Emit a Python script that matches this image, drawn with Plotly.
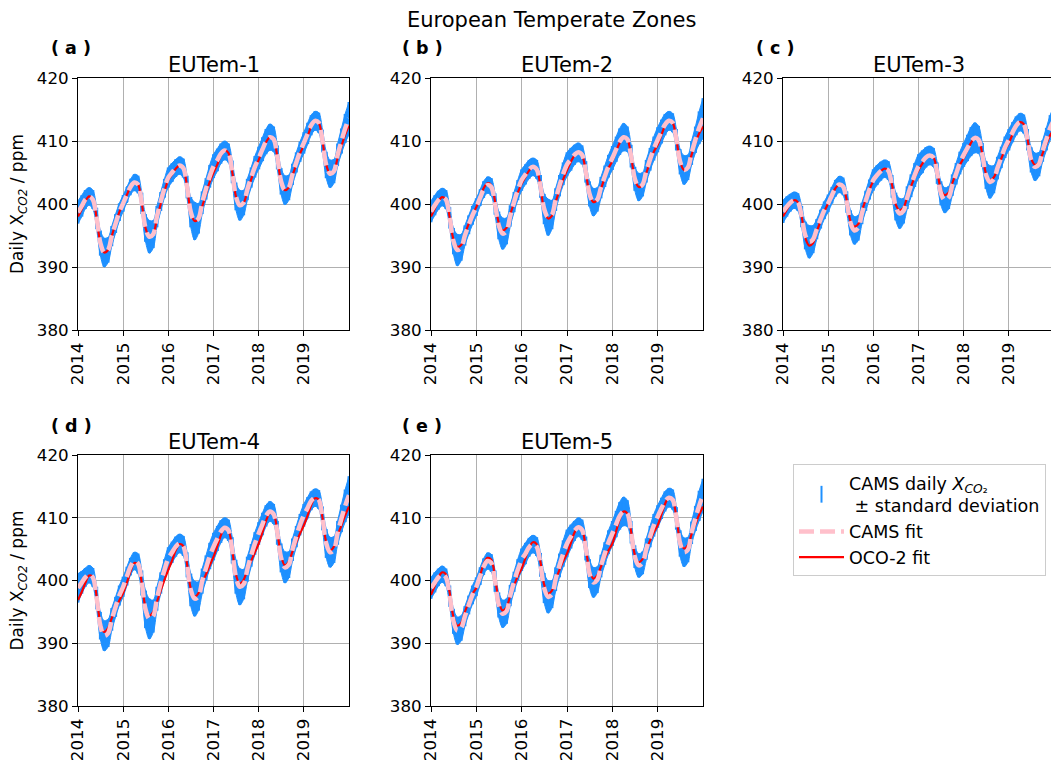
import numpy as np
import pandas as pd
import plotly.graph_objects as go

# ---------------- data (monthly readings, Jan 2014 .. Jan 2020) ----------------
months = pd.date_range("2014-01-01", "2020-01-01", freq="MS")
year_ticks = ["2014", "2015", "2016", "2017", "2018", "2019"]
panel_names = ["EUTem-1", "EUTem-2", "EUTem-3", "EUTem-4", "EUTem-5"]
panel_tags = ["( a )", "( b )", "( c )", "( d )", "( e )"]

cams_a = [398.7,399.7,400.7,401.2,400.7,397.7,393.8,392.3,392.7,394.9,396.9,398.7,
          400.1,401.5,402.7,403.4,403.1,400.1,396.2,394.8,395.2,398.0,400.4,402.5,
          404.2,405.0,405.7,406.1,405.7,402.7,398.7,397.3,397.7,400.2,402.4,404.4,
          406.0,407.0,408.0,408.5,408.1,405.1,401.2,399.8,400.2,402.3,404.2,405.9,
          407.3,408.7,409.9,410.6,410.3,407.4,403.6,402.2,402.6,404.7,406.6,408.3,
          409.7,411.2,412.5,413.2,412.9,410.0,406.2,404.8,405.2,407.8,410.0,412.0,
          413.6]
oco_a = [398.0,399.2,400.4,401.2,400.7,397.7,393.8,392.3,392.7,394.9,396.9,398.7,
         400.1,401.5,402.7,403.4,403.1,400.1,396.2,394.8,395.2,397.7,400.0,402.0,
         403.8,404.7,405.6,406.1,405.7,402.7,398.7,397.3,397.7,399.6,401.6,403.5,
         405.0,406.3,407.7,408.5,408.1,405.1,401.2,399.8,400.2,402.0,403.9,405.5,
         407.0,408.5,409.8,410.6,410.3,407.4,403.6,402.2,402.6,404.5,406.3,408.0,
         409.3,410.8,412.3,413.2,412.9,410.0,406.2,404.8,405.2,407.3,409.2,411.0,
         412.5]
sd_a = [1.8,1.7,1.5,1.4,1.5,1.7,2.0,2.3,2.0,1.6,1.5,1.4,
        1.3,1.2,1.2,1.3,1.4,1.7,2.2,2.6,2.2,1.7,1.5,1.5,
        1.6,1.5,1.4,1.4,1.5,1.8,2.4,3.0,2.4,1.8,1.7,1.8,
        1.9,1.8,1.6,1.5,1.5,1.8,2.2,2.4,2.0,1.7,1.6,1.7,
        1.8,1.9,2.0,2.1,2.0,1.9,2.1,2.3,2.0,1.7,1.6,1.6,
        1.7,1.7,1.6,1.5,1.6,1.8,2.1,2.2,1.9,1.8,2.0,2.3,
        2.6]

cams_b = [398.8,399.8,400.6,401.1,400.7,397.8,394.1,392.7,393.1,395.0,396.7,398.2,
          399.5,401.0,402.3,403.0,402.7,400.0,396.6,395.3,395.7,398.1,400.3,402.2,
          403.8,404.7,405.5,405.9,405.5,402.8,399.2,397.9,398.3,400.7,402.9,404.8,
          406.3,407.1,407.8,408.2,407.8,405.1,401.6,400.3,400.7,402.6,404.4,406.0,
          407.3,408.7,409.9,410.6,410.3,407.6,404.0,402.7,403.1,405.2,407.1,408.8,
          410.2,411.5,412.6,413.2,412.9,410.2,406.7,405.4,405.8,408.1,410.2,412.1,
          413.6]
oco_b = [398.0,399.3,400.4,401.1,400.7,397.8,394.4,393.2,393.5,395.2,396.9,398.3,
         399.5,401.1,402.5,403.3,403.0,400.4,397.0,395.8,396.2,398.3,400.2,401.8,
         403.2,404.3,405.3,405.9,405.5,402.8,399.0,397.7,398.1,400.3,402.2,403.9,
         405.4,406.7,407.7,408.2,407.8,405.1,401.6,400.3,400.7,402.4,404.2,405.7,
         406.8,408.4,409.7,410.6,410.3,407.6,404.0,402.7,403.1,404.9,406.7,408.3,
         409.4,411.0,412.4,413.2,412.9,410.2,406.7,405.4,405.8,407.8,409.7,411.2,
         412.3]
sd_b = [1.7,1.6,1.5,1.4,1.5,1.7,2.1,2.5,2.1,1.6,1.5,1.5,
        1.4,1.3,1.3,1.3,1.4,1.7,2.2,2.5,2.1,1.7,1.6,1.6,
        1.7,1.6,1.5,1.4,1.5,1.8,2.4,2.9,2.3,1.8,1.7,1.8,
        1.9,1.8,1.6,1.5,1.5,1.7,2.0,2.2,1.9,1.7,1.7,1.8,
        1.9,2.0,2.1,2.2,2.0,1.8,1.9,2.2,1.9,1.8,1.8,1.9,
        2.0,1.9,1.7,1.5,1.5,1.7,2.0,2.3,2.0,1.9,2.1,2.6,
        3.2]

cams_c = [398.8,399.6,400.2,400.6,400.3,398.0,395.0,394.0,394.4,396.0,397.6,399.0,
          400.1,401.4,402.5,403.1,402.8,400.3,397.0,395.8,396.2,398.5,400.5,402.3,
          403.8,404.6,405.2,405.6,405.3,402.8,399.6,398.5,398.9,401.0,402.9,404.6,
          406.0,406.7,407.4,407.7,407.4,404.9,401.7,400.6,401.0,403.0,404.8,406.5,
          407.8,408.9,409.9,410.5,410.2,407.8,404.6,403.5,403.9,405.7,407.4,409.0,
          410.2,411.4,412.4,413.0,412.7,410.2,407.0,405.9,406.3,408.4,410.3,412.1,
          413.3]
oco_c = [398.0,399.1,400.0,400.6,400.3,398.0,394.6,393.4,393.8,395.6,397.3,398.8,
         400.1,401.4,402.5,403.1,402.8,400.5,397.3,396.4,396.8,398.9,400.7,402.3,
         403.6,404.5,405.2,405.6,405.3,403.0,399.9,399.0,399.4,401.1,402.8,404.2,
         405.4,406.4,407.2,407.7,407.4,405.2,402.3,401.4,401.8,403.3,404.9,406.2,
         407.3,408.6,409.7,410.5,410.2,407.9,404.8,403.8,404.2,405.7,407.2,408.6,
         409.7,411.1,412.3,413.0,412.7,410.3,407.2,406.2,406.6,408.0,409.6,410.9,
         412.0]
sd_c = [1.8,1.6,1.4,1.3,1.4,1.7,2.2,2.6,2.2,1.6,1.5,1.4,
        1.4,1.3,1.3,1.3,1.4,1.7,2.0,2.2,2.0,1.7,1.6,1.6,
        1.7,1.6,1.5,1.4,1.5,1.8,2.2,2.4,2.0,1.8,1.8,1.9,
        1.9,1.8,1.6,1.5,1.5,1.7,1.9,2.0,1.8,1.7,1.7,1.8,
        1.9,2.1,2.3,2.4,2.2,1.9,2.2,2.6,2.2,1.8,1.7,1.7,
        1.7,1.6,1.5,1.4,1.5,1.7,2.0,2.2,1.9,1.7,1.8,2.0,
        2.2]

cams_d = [398.8,399.7,400.5,401.0,400.5,397.2,392.8,391.2,391.6,393.8,395.8,397.6,
          399.0,400.7,402.2,403.1,402.7,399.6,395.4,393.9,394.3,397.1,399.6,401.7,
          403.5,404.5,405.4,405.9,405.5,402.5,398.5,397.1,397.5,399.9,402.0,403.9,
          405.4,406.7,407.8,408.4,408.0,404.8,400.6,399.0,399.4,401.8,404.0,405.9,
          407.5,409.0,410.3,411.0,410.6,407.6,403.6,402.1,402.5,404.9,407.0,408.9,
          410.4,411.6,412.7,413.2,412.9,409.9,405.9,404.5,404.9,407.6,409.9,411.9,
          413.6]
oco_d = [396.9,398.2,399.6,400.8,400.6,397.4,393.2,391.8,392.4,394.0,395.5,396.8,
         398.0,399.7,401.4,402.8,402.5,399.6,395.7,394.4,395.0,396.6,398.4,400.1,
         401.7,403.2,404.8,405.8,405.5,402.6,398.7,397.4,398.0,399.6,401.0,402.4,
         403.8,405.5,407.2,408.3,408.0,404.9,400.9,399.5,400.1,401.7,403.1,404.5,
         405.9,407.7,409.5,410.7,410.6,407.7,403.9,402.4,403.0,404.6,406.1,407.5,
         408.8,410.4,412.0,413.1,412.9,410.0,406.1,404.8,405.4,407.2,408.8,410.4,
         411.8]
sd_d = [2.3,1.8,1.5,1.4,1.5,1.8,2.2,2.4,2.2,1.8,1.6,1.6,
        1.6,1.5,1.4,1.4,1.6,2.0,3.0,3.2,2.6,1.9,1.7,1.7,
        1.8,1.7,1.6,1.5,1.6,2.0,2.6,2.8,2.3,2.0,2.0,2.1,
        2.2,2.0,1.8,1.6,1.7,2.1,2.7,2.9,2.4,2.0,1.8,1.8,
        1.8,1.8,1.7,1.6,1.6,1.9,2.3,2.5,2.1,1.8,1.7,1.7,
        1.8,1.7,1.5,1.4,1.5,1.9,2.3,2.4,2.1,1.9,2.2,2.6,
        3.0]

cams_e = [398.8,399.7,400.5,401.0,400.5,397.5,393.5,392.0,392.4,394.3,396.1,397.7,
          399.0,400.7,402.2,403.1,402.8,399.9,396.1,394.7,395.1,397.6,399.8,401.7,
          403.3,404.3,405.3,405.8,405.4,402.5,398.8,397.4,397.8,400.2,402.4,404.3,
          405.9,407.0,407.9,408.5,408.1,405.1,401.1,399.7,400.1,402.3,404.3,406.1,
          407.5,409.0,410.3,411.0,410.7,407.7,403.8,402.4,402.8,405.0,407.0,408.8,
          410.2,411.5,412.6,413.2,412.9,409.9,405.9,404.5,404.9,407.6,409.9,411.9,
          413.6]
oco_e = [397.7,399.2,400.5,401.3,401.0,398.0,394.2,392.8,393.2,395.0,396.6,397.9,
         398.8,400.8,402.6,403.6,403.3,400.5,396.7,395.2,395.7,397.6,399.2,400.7,
         401.9,403.6,405.2,406.1,405.8,402.9,399.3,397.9,398.4,400.1,401.7,403.1,
         404.3,406.0,407.6,408.5,408.1,405.2,401.6,400.3,400.8,402.2,403.6,404.8,
         405.9,407.9,409.8,411.0,410.7,407.8,404.1,402.9,403.4,404.9,406.4,407.7,
         408.8,410.6,412.2,413.2,412.9,410.0,406.3,405.1,405.6,407.4,409.0,410.5,
         411.8]
sd_e = [1.7,1.6,1.4,1.3,1.4,1.7,2.0,2.2,2.0,1.6,1.5,1.5,
        1.5,1.4,1.3,1.3,1.4,1.7,2.0,2.2,2.0,1.7,1.6,1.7,
        1.8,1.7,1.5,1.4,1.5,1.9,2.4,2.6,2.2,1.9,1.9,2.1,
        2.2,1.9,1.6,1.5,1.6,1.9,2.3,2.4,2.1,1.8,1.8,1.9,
        2.0,2.1,2.2,2.3,2.1,1.8,1.8,1.9,1.8,1.7,1.7,1.8,
        1.8,1.7,1.6,1.5,1.6,1.8,2.1,2.3,2.0,1.8,2.0,2.4,
        2.6]

cams_all = [cams_a, cams_b, cams_c, cams_d, cams_e]
oco_all = [oco_a, oco_b, oco_c, oco_d, oco_e]
sd_all = [sd_a, sd_b, sd_c, sd_d, sd_e]

# ---------------- layout geometry (pixels of a 1051 x 762 page) ----------------
W, H = 1051, 762
FONT = "DejaVu Sans"
BLUE, PINK, RED = "#1E90FF", "#FFC0CB", "#FF0000"

col_px = [(78, 349), (431, 703), (783, 1051)]
row_px = [(78, 330), (455, 706)]
cells = [(0, 0), (0, 1), (0, 2), (1, 0), (1, 1)]
x_end = ["2020-01-01", "2020-01-01", "2019-12-08", "2020-01-01", "2020-01-01"]
title_cx = [213.5, 567, 919]

fig = go.Figure()
annotations = []
layout_axes = {}

for i in range(5):
    r, c = cells[i]
    n = i + 1
    xa = "x" if n == 1 else f"x{n}"
    ya = "y" if n == 1 else f"y{n}"
    cams = np.array(cams_all[i])
    oco = np.array(oco_all[i])
    sd = np.array(sd_all[i])
    first = i == 0

    # blue daily band (mean +/- std)
    fig.add_trace(go.Scatter(x=months, y=cams + sd, mode="lines", line=dict(color=BLUE, width=1, shape="spline"),
                             xaxis=xa, yaxis=ya, showlegend=False, hoverinfo="skip"))
    fig.add_trace(go.Scatter(x=months, y=cams - sd, mode="lines", line=dict(color=BLUE, width=1, shape="spline"),
                             fill="tonexty", fillcolor=BLUE, xaxis=xa, yaxis=ya, showlegend=False, hoverinfo="skip"))
    fig.add_trace(go.Scatter(
        x=months, y=cams, mode="markers",
        marker=dict(symbol="line-ns-open", size=12, color=BLUE, line=dict(color=BLUE, width=2)),
        error_y=dict(type="data", array=sd, thickness=3, width=0, color=BLUE),
        name="CAMS daily <i>X</i><sub><i>CO</i>₂</sub><br>\u00a0± standard deviation",
        legendgroup="cams_daily", showlegend=first, legendrank=1, xaxis=xa, yaxis=ya))
    # OCO-2 fit (red, below the pink dashes)
    fig.add_trace(go.Scatter(x=months, y=oco, mode="lines", line=dict(color=RED, width=2.2, shape="spline"),
                             name="OCO-2 fit", legendgroup="oco", showlegend=first, legendrank=3,
                             xaxis=xa, yaxis=ya))
    # CAMS fit (pink dashed)
    fig.add_trace(go.Scatter(x=months, y=cams, mode="lines",
                             line=dict(color=PINK, width=4.5, shape="spline", dash="15px,6px"),
                             name="CAMS fit", legendgroup="cams_fit", showlegend=first, legendrank=2,
                             xaxis=xa, yaxis=ya))

    x0, x1 = col_px[c]
    y0, y1 = row_px[r]
    xdom = [x0 / W, min(x1 / W, 1.0)]
    ydom = [1 - y1 / H, 1 - y0 / H]
    axis_common = dict(showline=True, linecolor="black", linewidth=1, ticks="outside", ticklen=5,
                       tickcolor="black", tickwidth=1, showgrid=True, gridcolor="#b0b0b0", gridwidth=0.8,
                       zeroline=False, automargin=False,
                       tickfont=dict(family=FONT, size=16.7, color="black"))
    layout_axes["xaxis" if n == 1 else f"xaxis{n}"] = dict(
        axis_common, domain=xdom, anchor=ya, type="date", range=["2014-01-01", x_end[i]],
        tickvals=[f"{t}-01-01" for t in year_ticks], ticktext=year_ticks, tickangle=-90, mirror=True)
    yax = dict(axis_common, domain=ydom, anchor=xa, range=[380, 420], tickvals=[380, 390, 400, 410, 420],
               mirror=(c != 2))
    if c == 0:
        yax["title"] = dict(text="Daily X<sub><i>CO2</i></sub> / ppm",
                            font=dict(family=FONT, size=17, color="black"), standoff=8)
    layout_axes["yaxis" if n == 1 else f"yaxis{n}"] = yax

    # subplot title
    annotations.append(dict(text=panel_names[i], x=title_cx[c] / W, y=1 - (y0 - 13) / H,
                            xref="paper", yref="paper", xanchor="center", yanchor="middle",
                            showarrow=False, font=dict(family=FONT, size=21, color="black")))
    # panel tag
    tag_x = [71, 422, 775][c]
    tag_y = [48, 426][r]
    annotations.append(dict(text=f"<b>{panel_tags[i]}</b>", x=tag_x / W, y=1 - tag_y / H, xref="paper",
                            yref="paper", xanchor="center", yanchor="middle", showarrow=False,
                            font=dict(family=FONT, size=17.5, color="black")))

annotations.append(dict(text="European Temperate Zones", x=551 / W, y=1 - 20 / H, xref="paper", yref="paper",
                        xanchor="center", yanchor="middle", showarrow=False,
                        font=dict(family=FONT, size=21, color="black")))

fig.update_layout(
    width=W, height=H, margin=dict(l=0, r=0, t=0, b=0),
    paper_bgcolor="white", plot_bgcolor="white",
    font=dict(family=FONT, size=16.7, color="black"),
    annotations=annotations,
    legend=dict(x=793 / W, y=1 - 464 / H, xanchor="left", yanchor="top", bordercolor="#cccccc", borderwidth=1,
                bgcolor="white", font=dict(family=FONT, size=17.5, color="black"), traceorder="normal",
                itemwidth=45),
    **layout_axes,
)

fig.write_html("out.html")
